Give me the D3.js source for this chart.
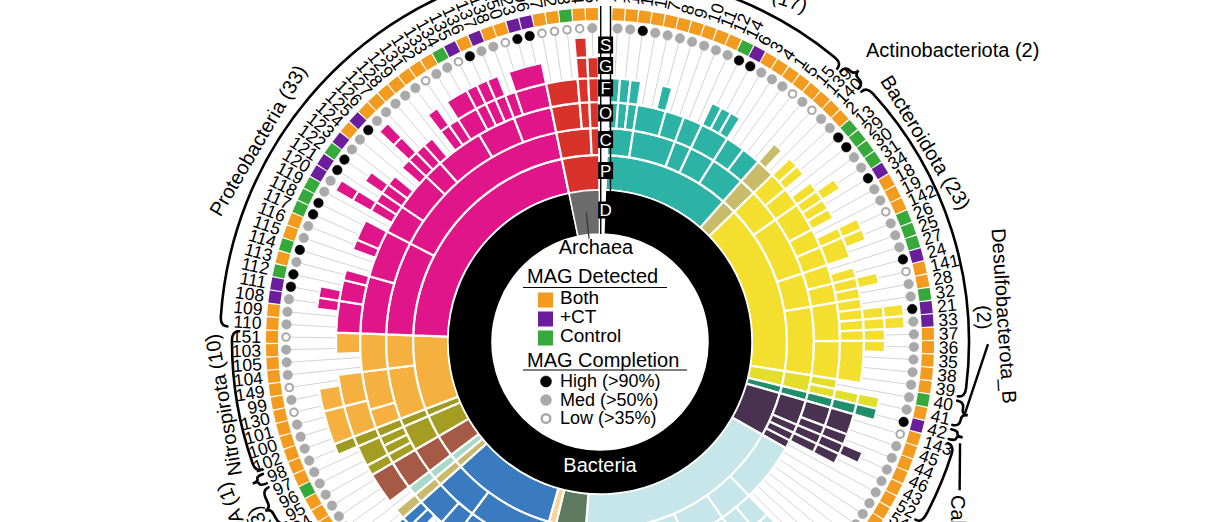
<!DOCTYPE html>
<html>
<head>
<meta charset="utf-8">
<script src="https://cdn.jsdelivr.net/npm/d3@7"></script>
<style>
html,body{margin:0;padding:0;background:#fff;}
svg{display:block;font-family:"Liberation Sans",Arial,Helvetica,sans-serif;}
</style>
</head>
<body>
<svg id="chart" width="1228" height="522"></svg>
<script>
// ---------------- DATA ----------------
const phylumNames = ["Acidobacteriota","Actinobacteriota","Bacteroidota","Desulfobacterota_B","Calditrichota","Chloroflexota","Patescibacteria","Gemmatimonadota","Firmicutes","Planctomycetota","Verrucomicrobiota","Spirochaetota","Myxococcota","Desulfobacterota","Desulfobacterota_A","Nitrospirota","Proteobacteria","Thermoproteota"];
const phylumCounts = [17,2,23,2,1,6,28,4,1,14,1,1,3,3,1,10,33,5];
const phylumColors = ["#2cb3a6","#c8bb6a","#f5df2e","#e3de2b","#208d6c","#48324f","#c6e6e9","#5d7a5e","#f8d49c","#3a7abf","#c8b96b","#a9d9c8","#a65944","#a39e22","#9f9b20","#f6b03f","#e0158a","#d8322a"];
const phylumDomain = ["Bacteria","Bacteria","Bacteria","Bacteria","Bacteria","Bacteria","Bacteria","Bacteria","Bacteria","Bacteria","Bacteria","Bacteria","Bacteria","Bacteria","Bacteria","Bacteria","Bacteria","Archaea"];

// taxonomy runs per level (positive = one taxon spanning n MAGs, negative = n MAGs unassigned)
const runsC = [[3,5,2,3,4],[2],[4,7,4,8],[2],[1],[3,1,1,1],[7,4,5,12],[4],[1],[9,5],[1],[1],[3],[3],[1],[6,4],[11,22],[4,1]];
const runsO = [[1,1,1,3,2,2,3,2,2],[2],[2,2,3,2,2,2,2,4,4],[1,1],[1],[2,1,1,1,-1],[-7,2,2,3,2,4,8],[2,2],[-1],[3,2,4,2,3],[1],[1],[3],[1,1,1],[1],[2,4,4],[6,5,3,4,2,5,4,4],[3,1,1]];
const runsF = [[1,1,1,-2,1,-4,1,1,1,-4],[1,-1],[1,1,-1,1,1,1,1,-1,1,2,-1,1,1,1,1,1,1,1,4],[-1,1],[1],[2,1,1,1,-1],[-7,1,-1,1,1,-1,2,1,1,-2,3,-7],[1,-3],[-1],[-5,2,2,-3,1,1],[1],[-1],[3],[1,2],[1],[3,3,-2,2],[3,2,1,-2,1,2,-1,1,1,1,1,-1,1,1,1,1,-1,1,1,2,1,1,1,1,3],[3,1,1]];
const runsG = [[-17],[-2],[-4,1,-3,1,1,-3,1,-2,1,1,1,1,-3],[-1,1],[1],[-3,1,-2],[-10,1,-17],[-4],[-1],[-12,1,1],[-1],[-1],[-3],[-3],[1],[3,2,-5],[-2,1,1,-8,1,-1,1,-3,1,-3,1,-1,2,1,1,1,-1,3],[-3,1,1]];
const runsS = [[-17],[-2],[-16,1,1,-5],[-2],[-1],[-6],[-28],[-4],[-1],[-14],[-1],[-1],[-3],[-3],[-1],[-10],[-12,1,-5,1,-14],[-3,1,-1]];

// MAG labels, clockwise from the top
const leafIds = [
 145,146,147,148,7,8,9,10,11,12,14,6,3,4,1,5,15,
 139,140,
 2,13,29,30,31,34,18,19,142,26,25,27,24,141,28,32,21,33,37,36,35,38,39,
 40,41,
 42,
 143,45,44,46,43,52,
 54,53,55,56,57,58,59,60,61,62,63,64,65,66,67,68,69,70,71,72,73,74,75,76,77,78,79,80,
 81,82,83,84,
 85,
 86,87,88,89,90,144,50,51,47,48,49,20,22,16,
 107,
 91,
 92,93,94,
 95,96,97,
 98,
 102,100,101,130,99,149,104,105,103,151,
 110,109,108,111,112,113,114,115,116,117,118,119,120,121,122,123,124,125,126,127,128,129,131,132,133,134,135,136,137,138,150,23,106,
 17,152,153,154,155
];
// MAG detected: B = Both, T = +CT, C = Control
const detected = [
 "B","B","B","B","B","B","B","B","B","B","C","T","B","B","B","B","B",
 "B","B",
 "B","C","C","C","C","T","B","B","B","C","C","C","T","B","B","C","T","T","B","B","B","B","B",
 "C","B",
 "T",
 "B","B","B","B","B","B",
 "B","B","B","B","B","C","B","B","T","B","B","B","B","C","C","B","B","B","T","B","B","B","B","B","C","B","B","T",
 "B","B","C","B",
 "B",
 "B","B","B","T","B","B","B","C","B","B","B","B","T","B",
 "B",
 "B",
 "B","B","B",
 "B","C","B",
 "B",
 "B","B","B","B","B","B","B","B","B","B",
 "B","B","T","T","C","B","C","B","B","C","C","C","T","T","C","T","B","T","B","B","B","B","B","B","B","C","T","B","T","B","B","T","T",
 "B","B","C","B","B"
];
// MAG completion: H = High (>90%), M = Med (>50%), L = Low (>35%)
const completion = [
 "M","M","H","M","M","M","M","M","M","M","H","H","M","M","M","L","M",
 "L","M",
 "M","H","H","M","M","H","M","M","L","M","M","M","H","L","M","M","H","M","M","M","M","M","M",
 "M","M",
 "H",
 "L","M","M","M","M","M",
 "M","M","M","M","M","M","M","M","H","M","M","M","L","M","M","M","M","H","M","M","M","M","M","L","M","M","M","M",
 "M","H","M","M",
 "M",
 "M","M","M","L","M","M","M","M","H","M","M","M","M","M",
 "M",
 "M",
 "M","M","M",
 "M","M","M",
 "M",
 "M","M","M","L","M","L","M","M","M","L",
 "M","M","M","H","H","M","H","M","M","H","H","M","M","H","H","M","M","H","M","M","M","M","M","L","M","M","L","H","M","M","L","H","H",
 "L","L","L","L","M"
];
const detectedKeys = ["B","T","C"];
const detectedNames = ["Both","+CT","Control"];
const detectedColors = ["#f39b1f","#6b1d9c","#36a93a"];
const completionKeys = ["H","M","L"];
const completionNames = ["High (>90%)","Med (>50%)","Low (>35%)"];
const levelKeys = ["S","G","F","O","C","P","D"];

// ---------------- LAYOUT ----------------
const cx = 600, cy = 342;
const nLeaves = d3.sum(phylumCounts);
const nSlots = nLeaves + 1;           // one empty slot at the top holds the level strip
const stepDeg = 360 / nSlots;
const g0 = 0.9;
const angleScale = d3.scaleLinear().domain([0, nSlots]).range([g0 - stepDeg/2, g0 - stepDeg/2 + 360]);
const rad = d => d * Math.PI / 180;
const polar = (r, deg) => [cx + r * Math.sin(rad(deg)), cy - r * Math.cos(rad(deg))];
const bands = {D:[108,152], P:[152,187], C:[187,214], O:[214,240], F:[240,264], G:[264,285], S:[285,305]};
const rLineIn = 152, rLineOut = 309, rDot = 314, rSquare = 328, sqSize = 12, rLabel = 339;

const detColor = d3.scaleOrdinal().domain(detectedKeys).range(detectedColors);
const compFill = d3.scaleOrdinal().domain(completionKeys).range(["#000000","#a9a9a9","#ffffff"]);
const compStroke = d3.scaleOrdinal().domain(completionKeys).range(["#000000","#a9a9a9","#a9a9a9"]);
const colorOf = d3.scaleOrdinal().domain(phylumNames).range(phylumColors);

const svg = d3.select("#chart");
const root = svg.append("g");

// group starts (slot position)
const groupStart = [];
{ let s = 1; phylumCounts.forEach(c => { groupStart.push(s); s += c; }); }

const leaves = [];
phylumNames.forEach((name, i) => {
  for (let j = 0; j < phylumCounts[i]; j++) {
    const k = groupStart[i] + j;
    leaves.push({k, phylum: i, id: leafIds[k-1], det: detected[k-1], comp: completion[k-1], ang: angleScale(k + 0.5)});
  }
});

// ---------- radial guide lines ----------
root.append("g").selectAll("line").data(leaves).join("line")
  .attr("x1", d => polar(rLineIn, d.ang)[0]).attr("y1", d => polar(rLineIn, d.ang)[1])
  .attr("x2", d => polar(rLineOut, d.ang)[0]).attr("y2", d => polar(rLineOut, d.ang)[1])
  .attr("stroke", "#d4d4d4").attr("stroke-width", 1);

// ---------- sectors ----------
const arcGen = d3.arc();
const sectors = [];
phylumNames.forEach((name, i) => {
  const s0 = groupStart[i];
  sectors.push({level: "P", x0: s0, x1: s0 + phylumCounts[i], color: colorOf(name)});
  [["C", runsC], ["O", runsO], ["F", runsF], ["G", runsG], ["S", runsS]].forEach(([lv, runs]) => {
    let pos = s0;
    runs[i].forEach(n => {
      if (n > 0) sectors.push({level: lv, x0: pos, x1: pos + n, color: colorOf(name)});
      pos += Math.abs(n);
    });
  });
});
const gSec = root.append("g").attr("transform", `translate(${cx},${cy})`);
gSec.selectAll("path.sec").data(sectors).join("path").attr("class", "sec")
  .attr("d", d => arcGen({innerRadius: bands[d.level][0], outerRadius: bands[d.level][1], startAngle: rad(angleScale(d.x0)), endAngle: rad(angleScale(d.x1))}))
  .attr("fill", d => d.color).attr("stroke", "#fff").attr("stroke-width", 2.2);

// domain ring
const archaeaIdx = phylumDomain.indexOf("Archaea");
const domainArcs = [
  {name: "Bacteria", x0: groupStart[0], x1: groupStart[archaeaIdx], color: "#000"},
  {name: "Archaea", x0: groupStart[archaeaIdx], x1: groupStart[archaeaIdx] + phylumCounts[archaeaIdx], color: "#6b6b6b"}
];
gSec.selectAll("path.dom").data(domainArcs).join("path").attr("class", "dom")
  .attr("d", d => arcGen({innerRadius: bands.D[0], outerRadius: bands.D[1], startAngle: rad(angleScale(d.x0)), endAngle: rad(angleScale(d.x1))}))
  .attr("fill", d => d.color).attr("stroke", "#fff").attr("stroke-width", 1.5);

// ---------- completion dots ----------
root.append("g").selectAll("circle").data(leaves).join("circle")
  .attr("cx", d => polar(rDot, d.ang)[0]).attr("cy", d => polar(rDot, d.ang)[1])
  .attr("r", d => d.comp === "L" ? 3.8 : 4.8)
  .attr("fill", d => compFill(d.comp)).attr("stroke", d => compStroke(d.comp))
  .attr("stroke-width", d => d.comp === "L" ? 2 : 0.5);

// ---------- detection squares ----------
root.append("g").selectAll("rect").data(leaves).join("rect")
  .attr("x", -sqSize/2).attr("y", -sqSize/2).attr("width", sqSize).attr("height", sqSize)
  .attr("transform", d => { const [x, y] = polar(rSquare, d.ang); return `translate(${x},${y}) rotate(${d.ang})`; })
  .attr("fill", d => detColor(d.det));

// ---------- MAG labels ----------
root.append("g").selectAll("text").data(leaves).join("text")
  .attr("font-size", 17.5).attr("dy", "0.35em")
  .attr("text-anchor", d => (d.ang % 360) < 180 ? "start" : "end")
  .attr("transform", d => {
    const [x, y] = polar(rLabel, d.ang);
    const a = d.ang % 360;
    return `translate(${x},${y}) rotate(${a < 180 ? a - 90 : a + 90})`;
  })
  .text(d => d.id);

// ---------- phylum braces and labels ----------
const labelLayout = {
  "Acidobacteriota": {angle: 18.5},
  "Actinobacteriota": {angle: 43, r: 390, rotate: 0, anchor: "start"},
  "Bacteroidota": {angle: 58.5, r: 375},
  "Desulfobacterota_B": {split: true, angle: 86.3, r: 398, rCount: 378, connector: [[388, 90.3], [372, 101]]},
  "Calditrichota": {angle: 113.55, r: 383, rotate: 90, anchor: "start", connector: [[374, 105.7], [389, 112.4]]},
  "Chloroflexota": {angle: 132},
  "Myxococcota": {anchor: "end"},
  "Spirochaetota": {anchor: "end"},
  "Verrucomicrobiota": {anchor: "end"},
  "Planctomycetota": {anchor: "end"},
  "Desulfobacterota": {angle: 244.5, r: 378, anchor: "end"},
  "Desulfobacterota_A": {angle: 249.5, r: 396, anchor: "end"},
  "Nitrospirota": {r: 375, brace: 368},
  "Proteobacteria": {angle: 300.5, r: 390, brace: 380}
};
const gBr = root.append("g");
phylumNames.forEach((name, i) => {
  const a0 = angleScale(groupStart[i]) + 0.35;
  const a1 = angleScale(groupStart[i] + phylumCounts[i]) - 0.35;
  const lay = labelLayout[name] || {};
  const R = lay.brace || 369;
  const span = a1 - a0, mid = (a0 + a1) / 2;
  const h = Math.min(1.4, span * 0.25);
  const p = d3.path();
  let [x, y] = polar(R - 7, a0); p.moveTo(x, y);
  let [qx, qy] = polar(R, a0); [x, y] = polar(R, a0 + h); p.quadraticCurveTo(qx, qy, x, y);
  if (phylumCounts[i] <= 3) {
    const c = Math.min(1.0, span * 0.22);
    p.arc(cx, cy, R, rad(a0 + h - 90), rad(mid - c - 90));
    [qx, qy] = polar(R, mid); [x, y] = polar(R + 6, mid); p.quadraticCurveTo(qx, qy, x, y);
    [x, y] = polar(R, mid + c); p.quadraticCurveTo(qx, qy, x, y);
    p.arc(cx, cy, R, rad(mid + c - 90), rad(a1 - h - 90));
  } else {
    p.arc(cx, cy, R, rad(a0 + h - 90), rad(a1 - h - 90));
  }
  [qx, qy] = polar(R, a1); [x, y] = polar(R - 7, a1); p.quadraticCurveTo(qx, qy, x, y);
  gBr.append("path").attr("d", p.toString()).attr("fill", "none").attr("stroke", "#000").attr("stroke-width", 2.6).attr("stroke-linecap", "round");

  const ang = lay.angle !== undefined ? lay.angle : mid;
  const r = lay.r || R + 8;
  const rot = lay.rotate !== undefined ? lay.rotate : ang;
  const anchor = lay.anchor || "middle";
  const put = (txt, rr) => {
    const [tx, ty] = polar(rr, ang);
    gBr.append("text").attr("font-size", 20).attr("text-anchor", anchor)
      .attr("transform", `translate(${tx},${ty}) rotate(${rot})`).text(txt);
  };
  if (lay.split) { put(name, r); put(`(${phylumCounts[i]})`, lay.rCount); }
  else put(`${name} (${phylumCounts[i]})`, r);
  if (lay.connector) {
    const [p1, p2] = lay.connector.map(([rr, aa]) => polar(rr, aa));
    gBr.append("line").attr("x1", p1[0]).attr("y1", p1[1]).attr("x2", p2[0]).attr("y2", p2[1])
      .attr("stroke", "#000").attr("stroke-width", 2.4);
  }
});

// ---------- level strip ----------
const [xL] = polar(300, angleScale(0.17));
const [xR] = polar(300, angleScale(0.98));
const gStrip = root.append("g");
[xL, xR].forEach(x => gStrip.append("line").attr("x1", x).attr("x2", x).attr("y1", cy - 336).attr("y2", cy - bands.D[0])
  .attr("stroke", "#000").attr("stroke-width", 1.4));
levelKeys.forEach(lv => {
  const rm = (bands[lv][0] + bands[lv][1]) / 2 + 2;
  const xm = (xL + xR) / 2, ym = cy - rm;
  gStrip.append("rect").attr("x", xm - 7.5).attr("y", ym - 8.5).attr("width", 15).attr("height", 17).attr("fill", "#000");
  gStrip.append("text").attr("x", xm).attr("y", ym).attr("dy", "0.36em").attr("text-anchor", "middle")
    .attr("font-size", 17).attr("fill", "#fff").text(lv);
});

// ---------- domain labels ----------
const archMid = angleScale(groupStart[archaeaIdx] + phylumCounts[archaeaIdx] / 2);
{
  const p1 = polar(130, archMid), p2 = polar(104, archMid);
  root.append("line").attr("x1", p1[0]).attr("y1", p1[1]).attr("x2", p2[0]).attr("y2", p2[1]).attr("stroke", "#333").attr("stroke-width", 1.2);
  const [ax, ay] = polar(88, -2.6);
  root.append("text").attr("x", ax).attr("y", ay).attr("text-anchor", "middle").attr("font-size", 20).text("Archaea");
  const [bx, by] = polar(130, 180);
  root.append("text").attr("x", bx).attr("y", by).attr("text-anchor", "middle").attr("font-size", 20).attr("fill", "#fff").text("Bacteria");
}

// ---------- legend ----------
const lg = root.append("g").attr("transform", `translate(${cx},${cy})`).attr("font-size", 20);
lg.append("text").attr("x", -73).attr("y", -59).text("MAG Detected");
lg.append("line").attr("x1", -77).attr("x2", 67).attr("y1", -54.5).attr("y2", -54.5).attr("stroke", "#000").attr("stroke-width", 1.2);
detectedKeys.forEach((k, i) => {
  lg.append("rect").attr("x", -62).attr("y", -49.5 + i * 19).attr("width", 15).attr("height", 15).attr("fill", detColor(k));
  lg.append("text").attr("x", -40).attr("y", -38 + i * 19).attr("font-size", 19).text(detectedNames[i]);
});
lg.append("text").attr("x", -73).attr("y", 25).text("MAG Completion");
lg.append("line").attr("x1", -77).attr("x2", 87).attr("y1", 28).attr("y2", 28).attr("stroke", "#000").attr("stroke-width", 1.2);
completionKeys.forEach((k, i) => {
  lg.append("circle").attr("cx", -54).attr("cy", 39.5 + i * 18.5).attr("r", k === "L" ? 4.3 : 5.5)
    .attr("fill", compFill(k)).attr("stroke", compStroke(k)).attr("stroke-width", k === "L" ? 2.4 : 0.5);
  lg.append("text").attr("x", -40).attr("y", 45 + i * 18.5).attr("font-size", 18).text(completionNames[i]);
});
</script>
</body>
</html>
